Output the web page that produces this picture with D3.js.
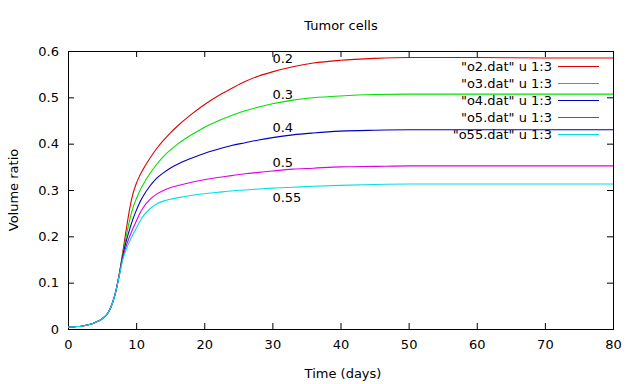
<!DOCTYPE html>
<html><head><meta charset="utf-8">
<script src="https://cdn.jsdelivr.net/npm/d3@7"></script>
<style>
body{margin:0;background:#fff;}
svg text{font-family:"DejaVu Sans",sans-serif;font-size:13px;fill:#000;}
</style></head><body>
<svg id="c" width="636" height="384"></svg>
<script>
const times = [0,1,2,3,4,5,6,6.5,7,7.5,8,8.5,9,9.5,10,10.5,11,12,13,14,15,16,18,20,22,24,26,28,30,33,36,40,45,50,60,70,80];
const early = [0.004,0.005,0.006,0.009,0.014,0.022,0.038,0.055,0.08];
const o2  = early.concat([0.117,0.162,0.21,0.255,0.29,0.313,0.33,0.344,0.368,0.389,0.407,0.423,0.437,0.462,0.484,0.503,0.519,0.534,0.546,0.555,0.566,0.574,0.58,0.584,0.586,0.586,0.585,0.585]);
const o3  = early.concat([0.116,0.158,0.197,0.232,0.26,0.28,0.297,0.311,0.335,0.355,0.372,0.386,0.398,0.418,0.435,0.449,0.461,0.471,0.479,0.486,0.494,0.499,0.503,0.506,0.507,0.507,0.507,0.507]);
const o4  = early.concat([0.115,0.155,0.187,0.213,0.236,0.255,0.272,0.286,0.308,0.325,0.337,0.347,0.355,0.368,0.379,0.388,0.396,0.402,0.408,0.413,0.419,0.423,0.427,0.429,0.43,0.43,0.43,0.43]);
const o5  = early.concat([0.114,0.151,0.177,0.198,0.216,0.232,0.248,0.261,0.279,0.291,0.299,0.305,0.309,0.316,0.322,0.327,0.331,0.335,0.338,0.341,0.345,0.347,0.35,0.351,0.352,0.352,0.352,0.352]);
const o55 = early.concat([0.113,0.147,0.17,0.188,0.203,0.217,0.231,0.243,0.259,0.27,0.276,0.28,0.283,0.288,0.292,0.295,0.298,0.3,0.302,0.304,0.306,0.308,0.31,0.312,0.313,0.313,0.313,0.313]);
const seriesNames = ['"o2.dat" u 1:3','"o3.dat" u 1:3','"o4.dat" u 1:3','"o5.dat" u 1:3','"o55.dat" u 1:3'];
const seriesColors = ["#e00000","#00e000","#0000c0","#e000e0","#00e0e0"];
const seriesValues = [o2,o3,o4,o5,o55];
const labelTexts = ["0.2","0.3","0.4","0.5","0.55"];
const labelX = [30,30,30,30,30];
const labelY = [0.583,0.506,0.436,0.36,0.285];
const xTicks = [0,10,20,30,40,50,60,70,80];
const yTicks = [0,0.1,0.2,0.3,0.4,0.5,0.6];

const L=68,R=613,T=51,B=329;
const svg = d3.select("#c");
const x = d3.scaleLinear().domain([0,80]).range([L,R]);
const y = d3.scaleLinear().domain([0,0.6]).range([B,T]);

const axB = d3.axisBottom(x).tickValues(xTicks).tickSize(-6).tickPadding(11).tickFormat(d3.format("d"));
const axT = d3.axisTop(x).tickValues(xTicks).tickSize(-6).tickFormat("");
const axL = d3.axisLeft(y).tickValues(yTicks).tickSize(-6).tickPadding(9).tickFormat(d=>d===0?"0":d3.format(".1f")(d));
const axR = d3.axisRight(y).tickValues(yTicks).tickSize(-6).tickFormat("");
function style(g){g.select(".domain").remove();g.selectAll("line").attr("stroke","#000");g.selectAll("text").attr("font-size",13).attr("font-family","DejaVu Sans").attr("fill","#000");}
svg.append("g").attr("transform",`translate(0,${B})`).call(axB).call(style);
svg.append("g").attr("transform",`translate(0,${T})`).call(axT).call(style);
svg.append("g").attr("transform",`translate(${L},0)`).call(axL).call(style);
svg.append("g").attr("transform",`translate(${R},0)`).call(axR).call(style);
svg.append("rect").attr("x",L+0.5).attr("y",T+0.5).attr("width",R-L).attr("height",B-T).attr("fill","none").attr("stroke","#000");

svg.append("text").attr("x",341).attr("y",30).attr("text-anchor","middle").text("Tumor cells");
svg.append("text").attr("x",343).attr("y",378).attr("text-anchor","middle").text("Time (days)");
svg.append("text").attr("transform","translate(18,190) rotate(-90)").attr("text-anchor","middle").text("Volume ratio");

labelTexts.forEach((t,i)=>{
  svg.append("text").attr("x",x(labelX[i])).attr("y",y(labelY[i])).attr("dy","0.35em").text(t);
});

const legY0=66.5, legDy=17;
seriesNames.forEach((n,i)=>{
  svg.append("text").attr("x",552).attr("y",legY0+i*legDy).attr("dy","0.35em").attr("text-anchor","end").text(n);
  svg.append("line").attr("x1",558).attr("x2",599).attr("y1",legY0+i*legDy).attr("y2",legY0+i*legDy).attr("stroke",seriesColors[i]).attr("stroke-width",1);
});

const line = d3.line().x((d,i)=>x(times[i])).y(d=>y(d)).curve(d3.curveMonotoneX);
seriesValues.forEach((vals,i)=>{
  svg.append("path").datum(vals).attr("d",line).attr("fill","none").attr("stroke",seriesColors[i]).attr("stroke-width",1.1);
});
</script></body></html>
